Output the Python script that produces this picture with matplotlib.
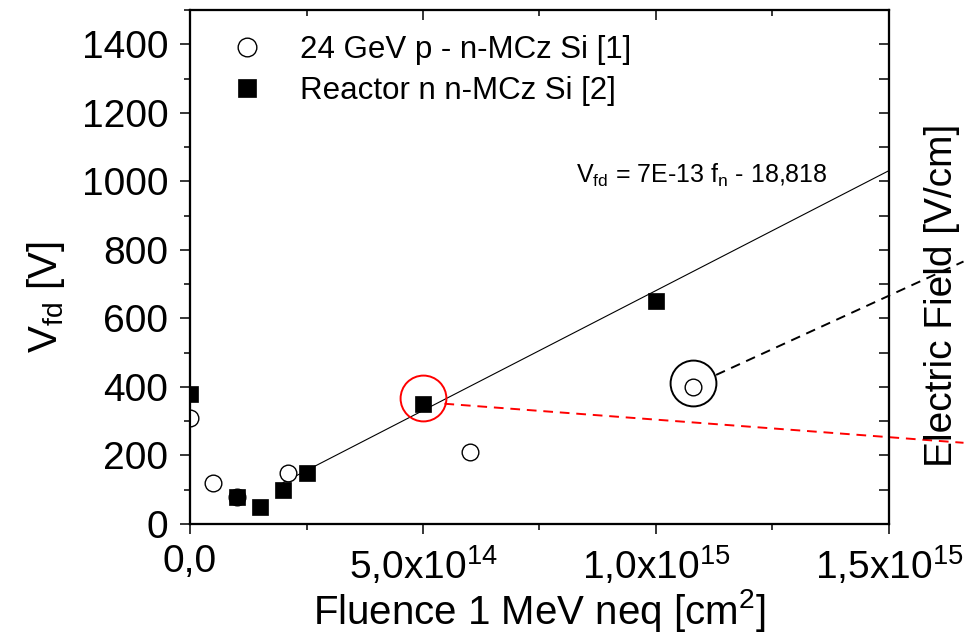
import numpy as np
import matplotlib.pyplot as plt
from matplotlib.ticker import MultipleLocator, FixedLocator

plt.rcParams['font.family'] = ['Liberation Sans', 'DejaVu Sans']
plt.rcParams['mathtext.fontset'] = 'custom'
plt.rcParams['mathtext.rm'] = 'Liberation Sans'
plt.rcParams['mathtext.it'] = 'Liberation Sans:italic'
plt.rcParams['mathtext.default'] = 'regular'

# 24 GeV protons, n-type MCz Si [1]
p_fluence = [0.0, 0.5e14, 1.0e14, 2.1e14, 6.0e14, 1.08e15]
p_vfd = [310, 120, 80, 150, 210, 400]

# reactor neutrons, n-type MCz Si [2]
n_fluence = [0.0, 1.0e14, 1.5e14, 2.0e14, 2.5e14, 5.0e14, 1.0e15]
n_vfd = [380, 80, 50, 100, 150, 350, 650]

# linear fit V_fd = a*f + b
fit_slope = 7e-13
fit_offset = -18.818
fit_from = 2.0e14
fit_to = 1.5e15

# highlighted points (big rings)
ring_red = (5.0e14, 368)
ring_black = (1.08e15, 412)

# guide lines running to the field scale
red_guide_x = [5.46e14, 1.66e15]
red_guide_y = [351, 237]
black_guide_x = [1.129e15, 1.66e15]
black_guide_y = [435, 766]

xticks = [0, 5e14, 1e15, 1.5e15]
xticklabels = ['0,0', '5,0x10$^{14}$', '1,0x10$^{15}$', '1,5x10$^{15}$']
yticks = np.arange(0, 1401, 200)

fig = plt.figure(figsize=(9.65, 6.35), dpi=100)
ax = fig.add_axes([0.1969, 0.1748, 0.7243, 0.8095])

# fit line
fx = np.array([fit_from, fit_to])
ax.plot(fx, fit_slope * fx + fit_offset, color='black', lw=0.8, zorder=2)

# data
ax.plot(p_fluence, p_vfd, 'o', ms=12, mfc='white', mec='black', mew=1.0,
        label='24 GeV p - n-MCz Si [1]', zorder=3)
ax.plot(n_fluence, n_vfd, 's', ms=12, mfc='black', mec='black', mew=0.5,
        label='Reactor n n-MCz Si [2]', zorder=4)

# rings and guides
ax.plot(*ring_red, 'o', ms=33, mfc='none', mec='red', mew=1.4, zorder=5)
ax.plot(*ring_black, 'o', ms=33, mfc='none', mec='black', mew=1.4, zorder=5)
ax.plot(red_guide_x, red_guide_y, color='red', lw=1.4, ls=(0, (5, 3.5)),
        clip_on=False, zorder=5)
ax.plot(black_guide_x, black_guide_y, color='black', lw=1.4, ls=(0, (5, 3.5)),
        clip_on=False, zorder=5)

ax.text(8.29e14, 997, 'V$_{fd}$ = 7E-13 f$_{n}$ - 18,818', fontsize=18,
        va='baseline', ha='left')

ax.set_xlim(0, 1.5e15)
ax.set_ylim(0, 1500)
ax.set_xticks(xticks)
ax.set_xticklabels(xticklabels)
ax.xaxis.set_minor_locator(MultipleLocator(2.5e14))
ax.set_yticks(yticks)
ax.yaxis.set_minor_locator(MultipleLocator(100))
ax.tick_params(which='major', direction='out', length=7.5, width=1.1,
               labelsize=28, pad=7)
ax.tick_params(which='minor', direction='out', length=4, width=1.1)
ax.tick_params(axis='y', pad=8)

ax.set_xlabel('Fluence 1 MeV neq [cm$^{2}$]', fontsize=29)
ax.xaxis.set_label_coords(0.5, -0.122)
ax.set_ylabel('V$_{fd}$ [V]', fontsize=29)
ax.yaxis.set_label_coords(-0.176, 0.44)

# mirrored ticks on top, field axis ticks on the right
axt = ax.twiny()
axt.set_xlim(ax.get_xlim())
axt.xaxis.set_major_locator(FixedLocator(xticks))
axt.xaxis.set_minor_locator(MultipleLocator(2.5e14))
axt.tick_params(which='major', direction='in', length=7.5, width=1.1, labeltop=False)
axt.tick_params(which='minor', direction='in', length=4, width=1.1)

axr = ax.twinx()
axr.set_ylim(ax.get_ylim())
axr.yaxis.set_major_locator(MultipleLocator(100))
axr.tick_params(direction='in', length=7.5, width=1.1, labelright=False)

for a in (ax, axt, axr):
    for s in a.spines.values():
        s.set_linewidth(1.5)

fig.text(942 / 965, 1 - 295 / 635, 'Electric Field [V/cm]', fontsize=28,
         rotation=90, ha='center', va='center')

ax.legend(loc='upper left', bbox_to_anchor=(0.037, 0.952), frameon=False,
          fontsize=22.5, borderpad=0, borderaxespad=0, handletextpad=0.7,
          labelspacing=0.36, handlelength=2.0, markerscale=1.12)

fig.savefig('out.png', dpi=100)
